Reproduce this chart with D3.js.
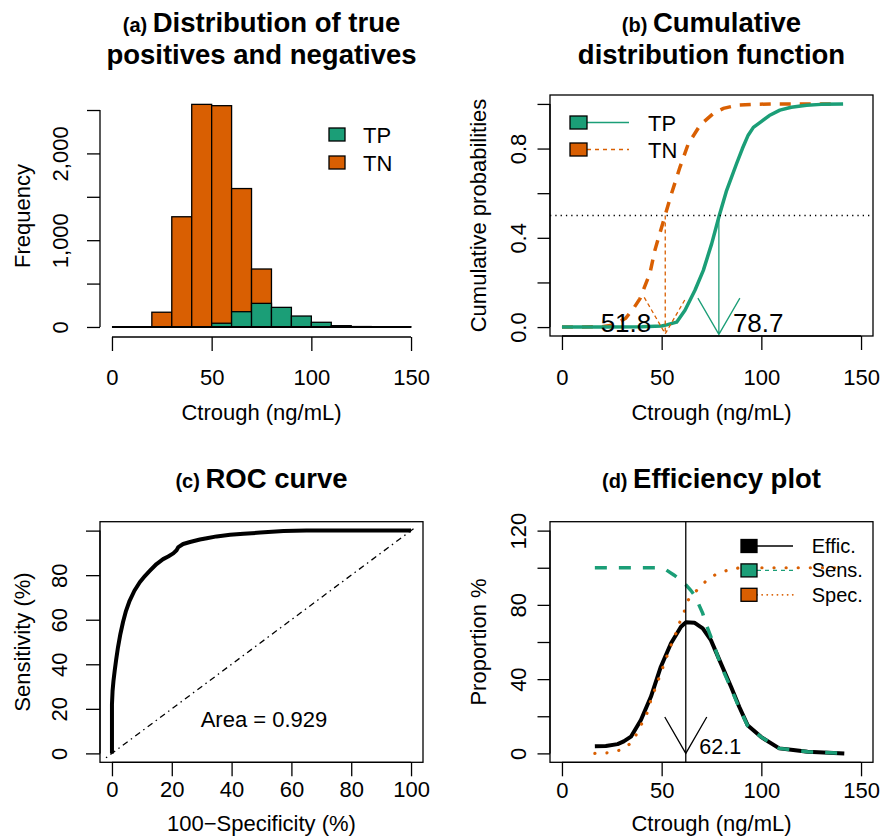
<!DOCTYPE html>
<html>
<head>
<meta charset="utf-8">
<script src="https://cdn.jsdelivr.net/npm/d3@7"></script>
<style>
	body { margin: 0; background: #fff; }
	svg { display: block; font-family: "Liberation Sans", Arial, Helvetica, sans-serif; }
</style>
</head>
<body>
<div id="chart"></div>
<script>
// panel (a) histogram, bins of 10 ng/mL
const binEdges = [0, 10, 20, 30, 40, 50, 60, 70, 80, 90, 100, 110, 120, 130, 140, 150]
const tnCounts = [0, 3, 170, 1270, 2565, 2550, 1595, 668, 40, 8, 0, 0, 0, 0, 0]
const tpCounts = [0, 0, 0, 0, 0, 43, 176, 272, 226, 126, 54, 15, 5, 2, 1]

// panel (b) cumulative distributions
const cdfTnX = [0, 10, 20, 25, 27.4, 32, 36, 39.1, 44.1, 46.6, 51.7, 55, 59.2, 63.3, 69.2, 75.9, 81, 87.6, 95, 105.8, 120, 135]
const cdfTnY = [0, 0, 0.002, 0.008, 0.015, 0.04, 0.085, 0.127, 0.24, 0.344, 0.5, 0.6, 0.717, 0.82, 0.904, 0.957, 0.98, 0.994, 0.998, 1, 1, 1]
const cdfTpX = [0, 20, 40, 50, 52.5, 57.5, 61.7, 66.7, 70.9, 75.1, 78.9, 82.6, 87.6, 90.5, 93.4, 96, 100.1, 104, 109.3, 115, 122.7, 130, 141]
const cdfTpY = [0, 0, 0.002, 0.005, 0.01, 0.022, 0.075, 0.165, 0.254, 0.374, 0.5, 0.613, 0.733, 0.8, 0.86, 0.895, 0.922, 0.948, 0.972, 0.985, 0.994, 0.998, 1]
const medianTn = 51.8
const medianTp = 78.7

// panel (c) ROC curve
const rocFpr = [0, 0, 0.2, 0.5, 0.9, 1.4, 2.0, 2.8, 3.7, 4.7, 5.9, 7.5, 9.3, 11, 12.7, 14.9, 17.1, 18.8, 20.5, 21.6, 22.2, 23.8, 26.1, 29.4, 31.7, 35, 39.5, 44, 49.6, 57.4, 65, 80, 100]
const rocSens = [0, 22, 28, 32.5, 37, 42, 47.5, 53.5, 59, 64, 68.5, 73, 76.8, 79.6, 82, 85, 87.2, 88.4, 89.8, 91.2, 92.6, 94, 94.9, 96, 96.6, 97.4, 98.1, 98.6, 99.1, 99.8, 100, 100, 100]
const rocArea = 0.929

// panel (d) efficiency plot
const effX = [16.5, 22, 27.9, 31, 34.6, 39.6, 44.6, 49.6, 54.7, 59.7, 62.2, 66.4, 70.6, 74.7, 79.7, 84.8, 88.9, 93.1, 99.8, 109, 116, 123.2, 141.6]
const effY = [3.9, 4, 5.0, 6.5, 9, 18, 30.5, 46.7, 59.3, 68.2, 70.6, 70.4, 67.3, 61, 48.5, 35.9, 25.1, 15.2, 8.9, 2.7, 1.8, 0.9, 0]
const sensX = [16.5, 30, 40, 48, 52, 56.3, 60, 62.2, 64.5, 66.4, 68.5, 70.6, 72.5, 74.7, 79.7, 84.8, 88.9, 93.1, 99.8, 109, 123.2, 141.6]
const sensY = [100, 100, 100, 100, 99, 96, 93, 90.7, 88, 85.3, 80.5, 75.4, 69, 62.8, 47.5, 35, 24.5, 15, 8.9, 2.7, 0.9, 0]
const specX = [16.5, 24.2, 30.4, 35.4, 38.4, 42.6, 44.6, 47.1, 51, 55, 57.3, 59.3, 61.3, 63.3, 67, 70.6, 74.8, 79.4, 84.8, 89.8, 100, 141.6]
const specY = [0, 0.4, 2.1, 6.3, 12.6, 21.5, 28.7, 35.9, 47.5, 59.2, 65, 71.3, 76.3, 82.6, 87.1, 91.2, 95.2, 97.3, 99.3, 100, 100, 100]
const optimalCut = 62.1

const xTicks = [0, 50, 100, 150]
const colTP = '#1B9E77'
const colTN = '#D95F02'
const fontSize = 22
const thin = 1.3

const svg = d3.select('#chart').append('svg')
	.attr('width', 882)
	.attr('height', 837)

// ---------- helpers ----------
function title(cx, lines, label) {
	lines.forEach((txt, i) => {
		const t = svg.append('text')
			.attr('x', cx)
			.attr('y', lines.length > 1 ? 32 + i * 32 : 488)
			.attr('text-anchor', 'middle')
			.attr('font-weight', 'bold')
			.attr('fill', '#000')
		if (i === 0) t.append('tspan').attr('font-size', 20).text(label + ' ')
		t.append('tspan').attr('font-size', 27.5).text(txt)
	})
}

function bottomAxis(scale, ticks, y0, labelBase, fmt) {
	const g = svg.append('g').attr('transform', 'translate(0,' + y0 + ')')
	g.call(d3.axisBottom(scale).tickValues(ticks).tickSize(14).tickFormat(fmt || d3.format('d')))
	g.select('.domain').remove()
	g.selectAll('.tick line').attr('stroke', '#000').attr('stroke-width', thin)
	g.selectAll('.tick text')
		.attr('y', labelBase - y0)
		.attr('dy', null)
		.attr('font-size', fontSize)
		.attr('font-family', null)
		.attr('fill', '#000')
	g.append('line')
		.attr('x1', scale(ticks[0])).attr('x2', scale(ticks[ticks.length - 1]))
		.attr('stroke', '#000').attr('stroke-width', thin)
	return g
}

function leftAxis(scale, ticks, x0, tickLen, labelBase, fmt) {
	const g = svg.append('g').attr('transform', 'translate(' + x0 + ',0)')
	g.call(d3.axisLeft(scale).tickValues(ticks).tickSize(tickLen).tickFormat(fmt))
	g.select('.domain').remove()
	g.selectAll('.tick line').attr('stroke', '#000').attr('stroke-width', thin)
	g.selectAll('.tick text')
		.attr('transform', 'rotate(-90)')
		.attr('x', 0)
		.attr('y', labelBase - x0)
		.attr('dy', null)
		.attr('text-anchor', 'middle')
		.attr('font-size', fontSize)
		.attr('font-family', null)
		.attr('fill', '#000')
	g.append('line')
		.attr('y1', scale(ticks[0])).attr('y2', scale(ticks[ticks.length - 1]))
		.attr('stroke', '#000').attr('stroke-width', thin)
	return g
}

function xLabel(cx, y, txt) {
	svg.append('text').attr('x', cx).attr('y', y)
		.attr('text-anchor', 'middle').attr('font-size', fontSize).text(txt)
}

function yLabel(x, cy, txt) {
	svg.append('text')
		.attr('transform', 'translate(' + x + ',' + cy + ') rotate(-90)')
		.attr('text-anchor', 'middle').attr('font-size', fontSize).text(txt)
}

function box(x, y) {
	svg.append('rect')
		.attr('x', x.range()[0]).attr('y', y.range()[1])
		.attr('width', x.range()[1] - x.range()[0])
		.attr('height', y.range()[0] - y.range()[1])
		.attr('fill', 'none').attr('stroke', '#000').attr('stroke-width', thin)
}

function arrowDown(g, x, yFrom, yTip, color, dash) {
	// R style open arrow head, 30 degree
	const len = 42
	const dx = len * Math.sin(Math.PI / 6)
	const dy = len * Math.cos(Math.PI / 6)
	const p = d3.path()
	p.moveTo(x, yFrom); p.lineTo(x, yTip)
	p.moveTo(x - dx, yTip - dy); p.lineTo(x, yTip); p.lineTo(x + dx, yTip - dy)
	g.append('path').attr('d', p.toString())
		.attr('fill', 'none').attr('stroke', color).attr('stroke-width', thin)
		.attr('stroke-dasharray', dash)
}

const unitFmt = (v) => v === 0 ? '0.0' : (v === 0.4 || v === 0.8 ? d3.format('.1f')(v) : '')

// ---------- (a) histogram ----------
{
	const x = d3.scaleLinear().domain([-6, 156]).range([100, 423])
	const y = d3.scaleLinear().domain([-104, 2673]).range([336, 95])
	title(261.5, ['Distribution of true', 'positives and negatives'], '(a)')

	const bars = svg.append('g')
	const drawBars = (counts, col) => {
		bars.selectAll(null)
			.data(counts.map((c, i) => ({ c: c, x0: binEdges[i], x1: binEdges[i + 1] })).filter(d => d.c > 0))
			.enter().append('rect')
			.attr('x', d => x(d.x0))
			.attr('width', d => x(d.x1) - x(d.x0))
			.attr('y', d => y(d.c))
			.attr('height', d => y(0) - y(d.c))
			.attr('fill', col)
			.attr('stroke', '#000')
			.attr('stroke-width', thin)
	}
	drawBars(tnCounts, colTN)
	drawBars(tpCounts, colTP)
	bars.append('line')
		.attr('x1', x(binEdges[0])).attr('x2', x(binEdges[binEdges.length - 1]))
		.attr('y1', y(0)).attr('y2', y(0))
		.attr('stroke', '#000').attr('stroke-width', 2)

	bottomAxis(x, xTicks, 337, 385)
	leftAxis(y, [0, 500, 1000, 1500, 2000, 2500], 100, 13, 68, v => v % 1000 === 0 ? d3.format(',')(v) : '')
	xLabel(261.5, 420, 'Ctrough (ng/mL)')
	yLabel(30, 216, 'Frequency')

	const leg = svg.append('g')
	;[['TP', colTP], ['TN', colTN]].forEach((d, i) => {
		leg.append('rect').attr('x', 329).attr('y', 128 + i * 28).attr('width', 16).attr('height', 13)
			.attr('fill', d[1]).attr('stroke', '#000').attr('stroke-width', thin)
		leg.append('text').attr('x', 363).attr('y', 142.5 + i * 28).attr('font-size', fontSize).text(d[0])
	})
}

// ---------- (b) CDF ----------
{
	const x = d3.scaleLinear().domain([-6, 156]).range([550, 873])
	const y = d3.scaleLinear().domain([-0.04, 1.04]).range([336, 95])
	title(711.5, ['Cumulative', 'distribution function'], '(b)')

	const line = d3.line().x(d => x(d[0])).y(d => y(d[1]))
	const g = svg.append('g')
	g.append('path').datum(d3.zip(cdfTnX, cdfTnY)).attr('d', line)
		.attr('fill', 'none').attr('stroke', colTN).attr('stroke-width', 3.5).attr('stroke-dasharray', '11,9')
	g.append('path').datum(d3.zip(cdfTpX, cdfTpY)).attr('d', line)
		.attr('fill', 'none').attr('stroke', colTP).attr('stroke-width', 3.5).attr('stroke-linejoin', 'round')

	g.append('line').attr('x1', x.range()[0]).attr('x2', x.range()[1])
		.attr('y1', y(0.5)).attr('y2', y(0.5))
		.attr('stroke', '#000').attr('stroke-width', thin).attr('stroke-dasharray', '1.3,4')

	arrowDown(g, x(medianTn), y(0.5), y(-0.03), colTN, '4,3')
	arrowDown(g, x(medianTp), y(0.5), y(-0.033), colTP, null)

	g.append('text').attr('x', x(medianTn) - 14).attr('y', 331.5).attr('text-anchor', 'end')
		.attr('font-size', 26).text(medianTn.toFixed(1))
	g.append('text').attr('x', x(medianTp) + 14).attr('y', 331.5)
		.attr('font-size', 26).text(medianTp.toFixed(1))

	box(x, y)
	bottomAxis(x, xTicks, 336, 385)
	leftAxis(y, [0, 0.2, 0.4, 0.6, 0.8, 1.0], 550, 12.5, 526, unitFmt)
	xLabel(711.5, 420, 'Ctrough (ng/mL)')
	yLabel(486, 215.5, 'Cumulative probabilities')

	const leg = svg.append('g')
	;[['TP', colTP, null], ['TN', colTN, '4,4']].forEach((d, i) => {
		const cy = 122.5 + i * 27
		leg.append('line').attr('x1', 587).attr('x2', 629).attr('y1', cy).attr('y2', cy)
			.attr('stroke', d[1]).attr('stroke-width', thin).attr('stroke-dasharray', d[2])
		leg.append('rect').attr('x', 570).attr('y', cy - 6.5).attr('width', 17).attr('height', 13)
			.attr('fill', d[1]).attr('stroke', '#000').attr('stroke-width', thin)
		leg.append('text').attr('x', 648).attr('y', cy + 8.5).attr('font-size', fontSize).text(d[0])
	})
}

// ---------- (c) ROC ----------
{
	const x = d3.scaleLinear().domain([-4, 104]).range([100, 423])
	const y = d3.scaleLinear().domain([-4, 104]).range([762.3, 521.7])
	title(261.5, ['ROC curve'], '(c)')

	const g = svg.append('g')
	g.append('line').attr('x1', x(-2)).attr('y1', y(-2)).attr('x2', x(101.5)).attr('y2', y(101.5))
		.attr('stroke', '#000').attr('stroke-width', thin).attr('stroke-dasharray', '1.5,4,6,4')
	g.append('path').datum(d3.zip(rocFpr, rocSens))
		.attr('d', d3.line().x(d => x(d[0])).y(d => y(d[1])))
		.attr('fill', 'none').attr('stroke', '#000').attr('stroke-width', 4).attr('stroke-linejoin', 'round')
	g.append('text').attr('x', 264).attr('y', 726.7).attr('text-anchor', 'middle')
		.attr('font-size', fontSize).text('Area = ' + rocArea.toFixed(3))

	box(x, y)
	bottomAxis(x, [0, 20, 40, 60, 80, 100], 762.3, 796.7)
	leftAxis(y, [0, 20, 40, 60, 80, 100], 100, 14, 66.7, v => v === 100 ? '' : String(v))
	xLabel(261.5, 830.5, '100\u2212Specificity (%)')
	yLabel(30, 642, 'Sensitivity (%)')
}

// ---------- (d) efficiency ----------
{
	const x = d3.scaleLinear().domain([-6, 156]).range([550, 873])
	const y = d3.scaleLinear().domain([-4.8, 124.8]).range([762.3, 521.7])
	title(711.5, ['Efficiency plot'], '(d)')

	const line = d3.line().x(d => x(d[0])).y(d => y(d[1]))
	const g = svg.append('g')
	g.append('path').datum(d3.zip(effX, effY)).attr('d', line)
		.attr('fill', 'none').attr('stroke', '#000').attr('stroke-width', 4).attr('stroke-linejoin', 'round')
	g.append('path').datum(d3.zip(sensX, sensY)).attr('d', line)
		.attr('fill', 'none').attr('stroke', colTP).attr('stroke-width', 3.5).attr('stroke-dasharray', '12,12')
	g.append('path').datum(d3.zip(specX, specY)).attr('d', line)
		.attr('fill', 'none').attr('stroke', colTN).attr('stroke-width', 3.2)
		.attr('stroke-dasharray', '0.1,12').attr('stroke-linecap', 'round')

	g.append('line').attr('x1', x(optimalCut)).attr('x2', x(optimalCut))
		.attr('y1', y.range()[0]).attr('y2', y.range()[1])
		.attr('stroke', '#000').attr('stroke-width', thin)
	arrowDown(g, x(optimalCut), y(0), y(0), '#000', null)
	g.append('text').attr('x', x(optimalCut) + 13.5).attr('y', 754.3)
		.attr('font-size', 21.5).text(optimalCut.toFixed(1))

	const leg = svg.append('g')
	;[['Effic.', '#000', '#000', null, 'butt'], ['Sens.', colTP, colTP, '4,4', 'butt'], ['Spec.', colTN, colTN, '0.1,5', 'round']].forEach((d, i) => {
		const cy = 546 + i * 24.4
		leg.append('line').attr('x1', 757).attr('x2', 793).attr('y1', cy).attr('y2', cy)
			.attr('stroke', d[2]).attr('stroke-width', d[4] === 'round' ? 1.8 : thin)
			.attr('stroke-dasharray', d[3]).attr('stroke-linecap', d[4])
		leg.append('rect').attr('x', 741).attr('y', cy - 6.5).attr('width', 16).attr('height', 13)
			.attr('fill', d[1]).attr('stroke', '#000').attr('stroke-width', thin)
		leg.append('text').attr('x', 811.7).attr('y', cy + 7).attr('font-size', 20).text(d[0])
	})

	box(x, y)
	bottomAxis(x, xTicks, 762.3, 797.7)
	leftAxis(y, [0, 20, 40, 60, 80, 100, 120], 550, 12.5, 526, v => v % 40 === 0 ? String(v) : '')
	xLabel(711.5, 830.5, 'Ctrough (ng/mL)')
	yLabel(486, 642, 'Proportion %')
}
</script>
</body>
</html>
